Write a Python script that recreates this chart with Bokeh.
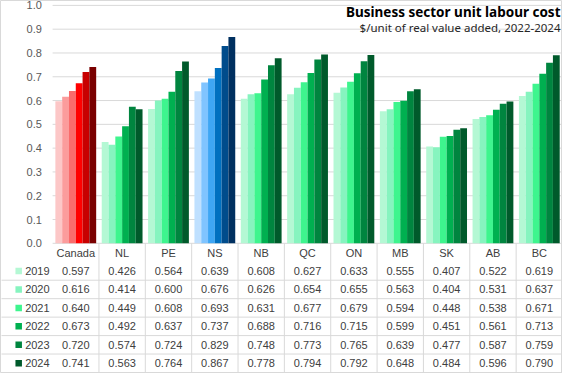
from bokeh.plotting import figure
from bokeh.models import Range1d, ColumnDataSource
from bokeh.embed import file_html
from bokeh.resources import INLINE
from bokeh.core.properties import value

# ---------------- data ----------------
categories = ["Canada", "NL", "PE", "NS", "NB", "QC", "ON", "MB", "SK", "AB", "BC"]
years = ["2019", "2020", "2021", "2022", "2023", "2024"]
v2019 = [0.597, 0.426, 0.564, 0.639, 0.608, 0.627, 0.633, 0.555, 0.407, 0.522, 0.619]
v2020 = [0.616, 0.414, 0.600, 0.676, 0.626, 0.654, 0.655, 0.563, 0.404, 0.531, 0.637]
v2021 = [0.640, 0.449, 0.608, 0.693, 0.631, 0.677, 0.679, 0.594, 0.448, 0.538, 0.671]
v2022 = [0.673, 0.492, 0.637, 0.737, 0.688, 0.716, 0.715, 0.599, 0.451, 0.561, 0.713]
v2023 = [0.720, 0.574, 0.724, 0.829, 0.748, 0.773, 0.765, 0.639, 0.477, 0.587, 0.759]
v2024 = [0.741, 0.563, 0.764, 0.867, 0.778, 0.794, 0.792, 0.648, 0.484, 0.596, 0.790]
series = [v2019, v2020, v2021, v2022, v2023, v2024]
y_ticks = [0.0, 0.1, 0.2, 0.3, 0.4, 0.5, 0.6, 0.7, 0.8, 0.9, 1.0]
tick_labels = ["0.0", "0.1", "0.2", "0.3", "0.4", "0.5", "0.6", "0.7", "0.8", "0.9", "1.0"]
title_text = "Business sector unit labour cost"
subtitle_text = "$/unit of real value added, 2022-2024"

# ---------------- style ----------------
greens = ["#b4f8d4", "#86f4bf", "#3ef58e", "#00b050", "#00853f", "#005a2b"]
reds = ["#fcc7c7", "#fb9c9c", "#f96c6c", "#ff0000", "#c80000", "#7a0000"]
blues = ["#bfe0ff", "#80c4ff", "#3ea6f4", "#0070c0", "#004c8c", "#003060"]
GRID = "#d9d9d9"
FONT = value("Liberation Sans")

# ---------------- layout (pixels) ----------------
W, H = 562, 373
PLOT_L = 52.1                 # left edge of bar area
CAT_PX = (W - PLOT_L) / len(categories)
Y0_PX = 242.8                 # pixel row of value 0
PX_Y = 237.9                  # pixels per unit value
ROW_PX = (H - 1 - Y0_PX) / 7  # table row height

def dx(px):
    return (px - PLOT_L) / CAT_PX

def dy(px):
    return (Y0_PX - px) / PX_Y

p = figure(width=W, height=H, output_backend="svg", toolbar_location=None,
           x_range=Range1d(dx(0), dx(W)), y_range=Range1d(dy(H), dy(0)),
           x_axis_location=None, y_axis_location=None, min_border=0)
p.xgrid.visible = False
p.ygrid.visible = False
p.outline_line_color = GRID
p.background_fill_color = "white"
p.border_fill_color = "white"

n = len(categories)
xs_left, xs_right = 0, n

# gridlines + axis line
p.segment(x0=[xs_left] * len(y_ticks), y0=y_ticks, x1=[xs_right] * len(y_ticks), y1=y_ticks,
          line_color=GRID, line_width=1)

# bars
BW = 0.1467
for j, vals in enumerate(series):
    xs = [i + 0.5 + (j - 2.5) * BW for i in range(n)]
    cols = []
    for i, c in enumerate(categories):
        if c == "Canada":
            cols.append(reds[j])
        elif c == "NS":
            cols.append(blues[j])
        else:
            cols.append(greens[j])
    src = ColumnDataSource(dict(x=xs, top=vals, color=cols))
    p.vbar(x="x", top="top", bottom=0, width=BW, fill_color="color", line_color=None, source=src)

# y tick labels
p.text(x=[dx(41.3)] * len(y_ticks), y=y_ticks, text=tick_labels, text_align="right",
       text_baseline="middle", text_font=FONT, text_font_size="11px", text_color="#595959")

# table lines
bottom = dy(H)
row_lines_y = [dy(Y0_PX + ROW_PX * (k + 2)) for k in range(len(years))]
p.segment(x0=[dx(1)] * len(years), y0=row_lines_y, x1=[xs_right] * len(years), y1=row_lines_y,
          line_color=GRID, line_width=1)
vx = list(range(1, n))
p.segment(x0=vx, y0=[0] * len(vx), x1=vx, y1=[bottom] * len(vx), line_color=GRID, line_width=1)

# header row
header_y = dy(Y0_PX + ROW_PX * 0.5)
p.text(x=[i + 0.5 for i in range(n)], y=[header_y] * n, text=categories, text_align="center",
       text_baseline="middle", text_font=FONT, text_font_size="11px", text_color="#404040")

# data rows
row_ys = [dy(Y0_PX + ROW_PX * (k + 1.5)) for k in range(len(years))]
for k, vals in enumerate(series):
    p.text(x=[i + 0.5 for i in range(n)], y=[row_ys[k]] * n, text=[f"{v:.3f}" for v in vals],
           text_align="center", text_baseline="middle", text_font=FONT, text_font_size="11px",
           text_color="#404040")

# row headers (legend keys + years)
p.scatter(x=[dx(18.2)] * len(years), y=row_ys, marker="square", size=6.5,
          fill_color=greens, line_color=None)
p.text(x=[dx(49.1)] * len(years), y=row_ys, text=years, text_align="right",
       text_baseline="middle", text_font=FONT, text_font_size="11px", text_color="#404040")

# titles
p.text(x=[dx(560)], y=[dy(11.7)], text=[title_text], text_align="right", text_baseline="middle",
       text_font=value("Noto Sans"), text_font_style="bold", text_font_size="13.5px",
       text_color="#000000")
p.text(x=[dx(560)], y=[dy(27.4)], text=[subtitle_text], text_align="right", text_baseline="middle",
       text_font=value("Noto Sans"), text_font_size="11.5px", text_color="#262626")

open("out.html", "w").write(file_html(p, INLINE))
